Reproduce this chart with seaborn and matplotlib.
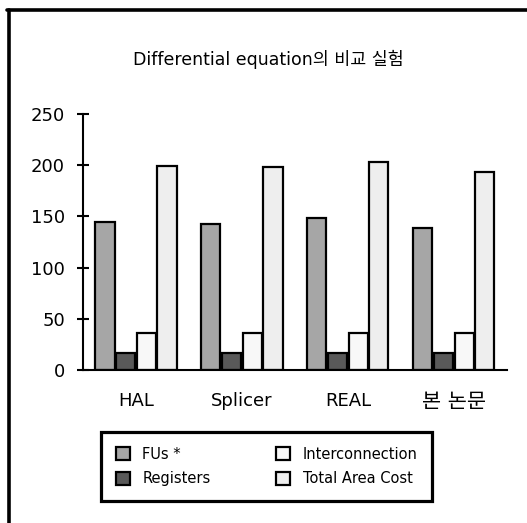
import pandas as pd
import matplotlib.pyplot as plt
import seaborn as sns
from matplotlib.lines import Line2D

methods = ['HAL', 'Splicer', 'REAL', '본 논문']
fus = [144.5, 142.5, 148, 139]
registers = [17, 17, 17, 17]
interconnection = [36, 36, 36, 36]
total_cost = [199.5, 198, 203, 193.5]
series_names = ['FUs *', 'Registers', 'Interconnection', 'Total Area Cost']

df = pd.DataFrame({'method': methods * 4,
                   'series': [s for s in series_names for _ in methods],
                   'value': fus + registers + interconnection + total_cost})

sns.set_style('white', {'text.color': 'black', 'xtick.color': 'black', 'ytick.color': 'black',
                        'axes.labelcolor': 'black', 'ytick.left': True})
plt.rcParams['font.family'] = ['DejaVu Sans', 'Noto Sans CJK KR']

colors = ['#a6a6a6', '#595959', '#f8f8f8', '#eeeeee']

fig = plt.figure(figsize=(5.27, 5.23), dpi=100)
ax = fig.add_axes([0.1575, 0.2925, 0.8045, 0.4895])

sns.barplot(data=df, x='method', y='value', hue='series', palette=colors,
            width=0.78, gap=0.08, edgecolor='black', linewidth=1.6,
            saturation=1, ax=ax)

ax.set_ylim(0, 250)
ax.set_yticks([0, 50, 100, 150, 200, 250])
ax.set_xlabel('')
ax.set_ylabel('')
ax.tick_params(axis='y', left=True, direction='inout', length=8, width=1.5,
               labelsize=13, pad=9, color='black')
ax.tick_params(axis='x', length=0, labelsize=13, pad=16)
# the Korean label is drawn a bit larger in the original
for lbl in ax.get_xticklabels():
    if lbl.get_text() == '본 논문':
        lbl.set_fontsize(15)
for side in ['top', 'right']:
    ax.spines[side].set_visible(False)
for side in ['left', 'bottom']:
    ax.spines[side].set_linewidth(1.5)
    ax.spines[side].set_color('black')

ax.get_legend().remove()
handles, labels = ax.get_legend_handles_labels()
leg = fig.legend(handles, labels, ncol=2, loc='center',
                 bbox_to_anchor=(266.5 / 527, 1 - 466.5 / 523),
                 fontsize=10.5, frameon=True, fancybox=False, framealpha=1,
                 handlelength=1.0, handleheight=1.0, handletextpad=0.85,
                 labelspacing=0.67, borderpad=1.0, columnspacing=4.45)
leg.get_frame().set_edgecolor('black')
leg.get_frame().set_linewidth(2.3)

fig.text(0.509, 1 - 59 / 523, 'Differential equation의 비교 실험',
         ha='center', va='center', fontsize=12.5)

# outer frame (only top and left edges are visible)
fig.add_artist(Line2D([8.5 / 527, 8.5 / 527], [0, 1 - 9.5 / 523],
                      transform=fig.transFigure, color='black', lw=2.6))
fig.add_artist(Line2D([7 / 527, 1], [1 - 9.5 / 523, 1 - 9.5 / 523],
                      transform=fig.transFigure, color='black', lw=2.6))

fig.savefig('out.png', dpi=100)
